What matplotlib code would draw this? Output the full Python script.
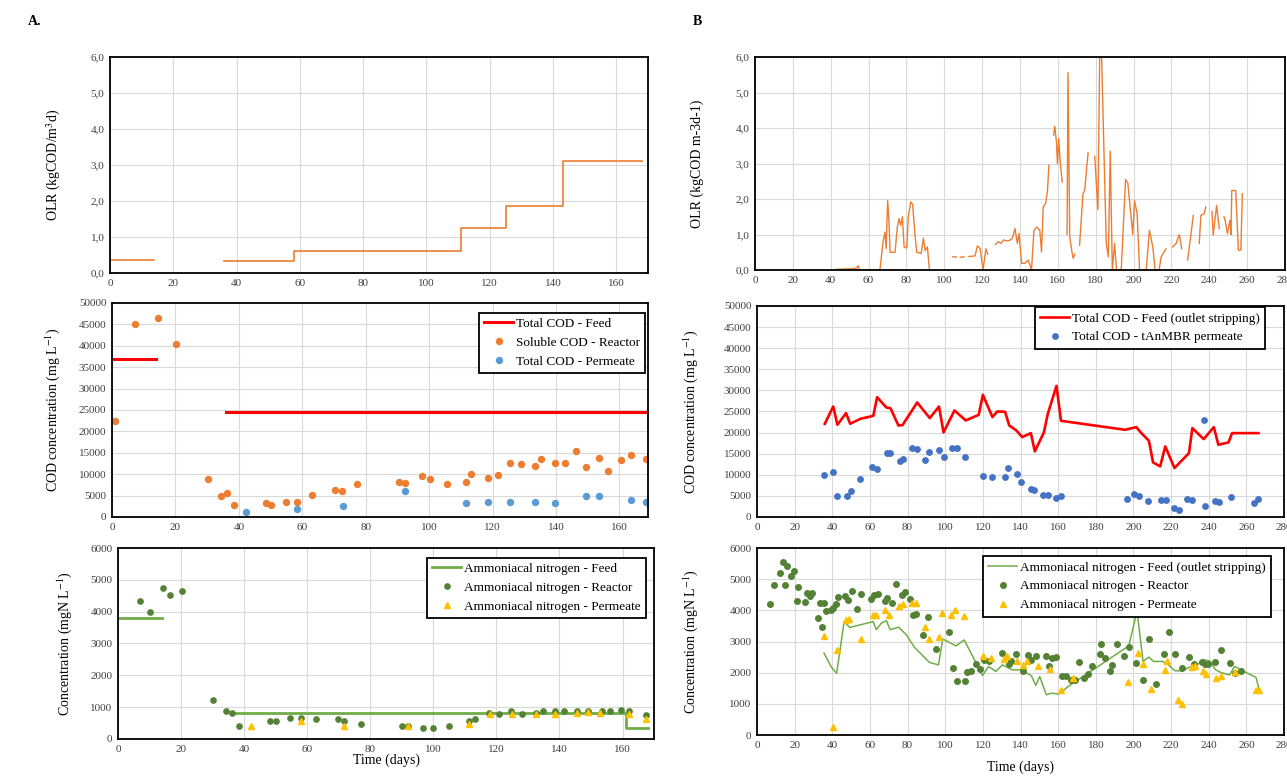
import numpy as np
import matplotlib.pyplot as plt
from matplotlib.ticker import FuncFormatter, MultipleLocator

plt.rcParams['font.family'] = ['Liberation Serif', 'DejaVu Serif']
plt.rcParams['mathtext.fontset'] = 'stix'
nan = np.nan

# ---- A: OLR (step profile) ----
olr_a1_day = [0, 14]
olr_a1_val = [0.35, 0.35]
olr_a2_day = [36, 58, 111, 125, 143, 168]
olr_a2_val = [0.32, 0.62, 1.25, 1.87, 3.1, 3.1]

# ---- A: COD ----
cod_feed_a1_day = [0, 14]
cod_feed_a1_val = [37000, 37000]
cod_feed_a2_day = [36, 168]
cod_feed_a2_val = [24500, 24500]
scod_reac_day = [1, 7.3, 14.4, 20.1, 30.3, 34.4, 36.4, 38.4, 48.5, 50.1, 55, 58.3, 63,
                 70.4, 72.5, 77.3, 90.4, 92.4, 97.6, 100.4, 105.7, 111.5, 113.3, 118.7,
                 121.6, 125.6, 128.9, 133.3, 135.3, 139.6, 142.7, 146.3, 149.6, 153.6,
                 156.4, 160.4, 163.6, 168.4]
scod_reac_val = [22500, 45100, 46400, 40300, 8950, 5000, 5650, 2700, 3300, 2900, 3500,
                 3500, 5100, 6300, 6000, 7800, 8200, 7850, 9600, 8950, 7800, 8200, 10100,
                 9200, 9900, 12550, 12300, 11800, 13500, 12550, 12550, 15300, 11700, 13700,
                 10750, 13250, 14450, 13500]
tcod_perm_a_day = [42.4, 58.3, 72.7, 92.4, 111.5, 118.7, 125.6, 133.3, 139.6, 149.6,
                   153.6, 163.6, 168.4]
tcod_perm_a_val = [1100, 1950, 2600, 6000, 3200, 3500, 3500, 3500, 3200, 4800, 4800,
                   3900, 3500]

# ---- A: ammoniacal nitrogen ----
nh4_feed_a1_day = [0, 14]
nh4_feed_a1_val = [3800, 3800]
nh4_feed_a2_day = [36, 161, 168]
nh4_feed_a2_val = [820, 330, 330]
nh4_reac_a_day = [7, 10.2, 14.2, 16.4, 20.3, 30.1, 34.2, 36.2, 38.3, 48.3, 50, 54.7,
                  58.1, 62.9, 69.8, 71.8, 77, 90, 92, 96.8, 99.9, 105.1, 111.2, 113.2,
                  117.8, 120.7, 124.7, 128.2, 132.7, 134.7, 138.6, 141.3, 145.6, 149,
                  153.4, 155.9, 159.6, 162.2, 167.6]
nh4_reac_a_val = [4330, 3990, 4740, 4510, 4650, 1210, 870, 830, 410, 580, 580, 650, 650,
                  620, 620, 560, 460, 420, 410, 330, 350, 420, 580, 640, 830, 770, 880,
                  790, 820, 880, 880, 880, 880, 880, 880, 880, 910, 870, 750]
nh4_perm_a_day = [42.2, 58, 71.8, 92, 111.2, 118, 124.9, 132.6, 138.6, 145.6, 149,
                  152.7, 162.2, 167.6]
nh4_perm_a_val = [410, 550, 410, 420, 470, 770, 800, 780, 790, 810, 850, 810, 790, 640]

# ---- B: OLR ----
olr_b_day = [43, 48, 53.5, 54.6, 55.2, 66,
             67.8, 68.7, 69.3, 70.1, 70.8, 71.4, 74, 75.2, 76.1, 77, 77.9, 78.8, 80.2,
             81, 82.3, 83.3, 84.6, 85.5, 87.8, 89, 89.9, 91.1, 92.2, nan,
             104.5, 106.5, nan, 108.5, 110.5, nan,
             113, 116.3, 117.5, 119, 120.5, 122, 123, nan,
             127, 128.5, 130, 131.5, 133, 134.7, 136, 137.4, 138.6, 139.5, 140.9, 142.5,
             144.4, 146.1, 147.4, 148.8, 150.5, 151.4, 152.3, 153.5, 154.5, 155.3, nan,
             157.8, 158.4, 159.3, 159.8, 160.5, 161.2, 162.3, nan,
             164.9, 165.4, 166.3, 167.5, 168.1, 169, nan,
             171.5, 172.5, 173.3, 174.2, 176, nan,
             179.5, 181.2, 182.2, 183, 185.6, 186.7, 187.7, 188.8, 190, 191, 193.5,
             195.8, 197, 199.6, 200.5, 201.9, 203.2, 206.7, 208.4, 210.2, 211.4, 213.5,
             214.6, 216, 217.2, nan,
             220.7, 222.5, 224.2, 225.5, nan,
             228.6, 230.4, 231.6, nan, 234.7, 235.6, 237.4, 238.2, nan,
             241.5, 242.1, 243.9, 245.3, nan,
             247.8, 248.4, 249.6, 250.9, 251.5, 251.9, 254, 255.4, 256.7, 257.5]
olr_b_val = [0.02, 0.03, 0.05, 0.12, 0.0, 0.0,
             0.84, 1.07, 0.6, 1.96, 1.4, 0.5, 0.5, 1.2, 1.45, 1.26, 1.5, 0.65, 0.62,
             1.5, 1.92, 1.85, 0.95, 0.5, 0.47, 0.9, 0.55, 0.65, 0.0, nan,
             0.37, 0.37, nan, 0.36, 0.37, nan,
             0.38, 0.4, 0.68, 0.6, 0.0, 0.6, 0.45, nan,
             0.72, 0.8, 0.75, 0.85, 0.82, 0.84, 0.9, 1.17, 0.75, 1.03, 0.19, 0.19,
             0.28, 0.0, 1.12, 1.21, 1.12, 0.51, 1.78, 1.87, 2.2, 2.95, nan,
             3.8, 4.05, 3.6, 3.0, 3.7, 3.1, 2.48, nan,
             1.0, 5.56, 0.93, 0.5, 0.33, 0.45, nan,
             0.7, 1.5, 2.15, 2.24, 3.3, nan,
             3.2, 1.7, 6.3, 6.3, 0.75, 0.37, 3.35, 0.0, 0.75, 0.0, 0.0,
             2.55, 2.45, 1.0, 1.95, 1.6, 0.0, 0.0, 1.12, 0.65, 0.0, 0.0,
             0.37, 0.5, 0.6, nan,
             0.65, 0.75, 1.0, 0.6, nan,
             0.28, 1.03, 1.54, nan, 0.75, 1.54, 1.59, 1.78, nan,
             1.65, 0.98, 1.82, 1.17, nan,
             1.5, 1.4, 1.03, 1.4, 1.0, 2.24, 2.24, 0.56, 0.56, 2.15]

# ---- B: COD ----
cod_feed_b_day = [36, 40.5, 42.7, 47.3, 49.5, 54.9, 61.8, 63.8, 68.7, 70.9, 75.1, 77.3,
                  85.1, 91.8, 96.7, 99.1, 104.9, 110.9, 117.8, 120, 125.1, 127.6, 131.8,
                  134, 137.8, 140.9, 145.5, 147.6, 152.4, 154.5, 159.1, 161.5, 195.5,
                  201.5, 204.2, 208.2, 210.4, 214.2, 216.9, 221.8, 229.5, 231.3, 237.3,
                  242.7, 245.1, 250.5, 252.4, 266.4]
cod_feed_b_val = [22080, 26180, 21850, 24600, 22080, 23260, 23970, 28390, 25950, 25790,
                  21690, 21770, 27130, 23420, 26180, 20030, 25240, 22870, 24210, 28940,
                  23660, 25000, 24920, 21690, 20500, 18930, 19870, 15540, 20030, 24450,
                  31070, 22790, 20660, 21290, 19870, 18060, 12930, 11990, 16720, 11590,
                  15140, 21060, 18450, 21290, 17110, 17670, 19870, 19870]
tcod_perm_b_day = [35.6, 40.5, 42.7, 47.8, 49.8, 54.9, 61.3, 63.8, 69.1, 70.5, 75.8, 77.6,
                   82.5, 84.9, 89.5, 91.5, 96.9, 99.1, 103.6, 106, 110.5, 120, 125.1,
                   131.5, 133.6, 138.2, 140.5, 145.5, 147.3, 151.8, 154.5, 158.7, 161.3,
                   196.4, 200.5, 203.1, 207.8, 214.5, 217.3, 221.8, 224.2, 228.5, 231.3,
                   237.3, 237.8, 243.1, 245.5, 251.8, 264, 266.4]
tcod_perm_b_val = [10020, 10570, 5050, 5050, 6070, 9070, 11830, 11440, 15140, 15140,
                   13330, 13800, 16320, 16090, 13560, 15380, 15770, 14200, 16320, 16320,
                   14200, 9620, 9380, 9380, 11590, 10250, 8200, 6700, 6310, 5130, 5130,
                   4420, 5050, 4260, 5440, 5050, 3710, 3940, 3940, 2210, 1730, 4340, 3940,
                   23030, 2680, 3860, 3470, 4810, 3310, 4260]

# ---- B: ammoniacal nitrogen ----
nh4_feed_b_day = [35.6, 39.6, 42.3, 46.3, 49.3, 61.7, 63.4, 66.1, 68.7, 70.8, 75.2, 79.3,
                  83.7, 91.6, 96.4, 98.7, 105.7, 110.1, 119.8, 123, 126.9, 130.4, 135.7,
                  140.5, 145.8, 148.1, 150.2, 153.7, 156.3, 160.7, 165.1, 197.5, 201.9,
                  205.1, 208.1, 210.7, 215.6, 218.6, 222.1, 225.6, 230, 234.4, 237.9,
                  240.5, 243.7, 246.7, 251.1, 253.7, 257.7, 265.1, 266.8]
nh4_feed_b_val = [2630, 2170, 1980, 3640, 3450, 3640, 3380, 3590, 3670, 3380, 3460, 3220,
                  2810, 2330, 2250, 3080, 2860, 3050, 1910, 2200, 2040, 2250, 2090, 2090,
                  1900, 1590, 1880, 1290, 1340, 1320, 1550, 2860, 3970, 2360, 2500, 2360,
                  2360, 2250, 2060, 2060, 2180, 2280, 2410, 2380, 2090, 2000, 1930, 2200,
                  2070, 1850, 1450]
nh4_reac_b_day = [7, 9.2, 12, 13.6, 15, 15.9, 18.1, 19.4, 21.5, 22, 25.6, 26.8, 28.2,
                  29.4, 32.2, 33.5, 34.5, 35.6, 36.7, 39.1, 40.5, 41.9, 43.2, 46.7, 48.6,
                  50.7, 53.2, 55.5, 60.3, 62.2, 64.3, 67.8, 69.2, 71.7, 74, 77.2, 78.6,
                  81.1, 82.8, 84.6, 88.1, 90.7, 95.2, 101.8, 104, 106.1, 110.3, 111.5,
                  113.8, 116.6, 118.4, 120.7, 123.3, 130.4, 133.9, 135.2, 137.4, 141.4,
                  144, 145.8, 148.4, 153.3, 155.1, 156.8, 158.9, 161.9, 163.9, 166.8,
                  168.9, 170.9, 173.9, 175.6, 177.9, 182.1, 182.6, 184.7, 187.4, 188.8,
                  191.4, 194.9, 197.5, 201.4, 204.9, 208.1, 211.9, 216, 219.1, 222.1,
                  225.6, 229.6, 232.3, 236.5, 237.9, 239.6, 243.2, 246.7, 251.1, 253.7,
                  257.2]
nh4_reac_b_val = [4200, 4800, 5200, 5540, 4800, 5410, 5110, 5250, 4310, 4750, 4270, 4560,
                  4450, 4560, 3770, 4230, 3450, 4230, 3970, 4000, 4070, 4200, 4430, 4470,
                  4320, 4630, 4040, 4530, 4360, 4500, 4530, 4290, 4390, 4250, 4840, 4500,
                  4580, 4370, 3860, 3890, 3220, 3800, 2770, 3300, 2140, 1730, 1730, 2010,
                  2040, 2270, 2110, 2410, 2360, 2630, 2280, 2360, 2590, 2060, 2570, 2410,
                  2520, 2550, 2220, 2470, 2490, 1900, 1900, 1770, 1770, 2330, 1840, 1950,
                  2220, 2590, 2920, 2470, 2070, 2250, 2920, 2520, 2840, 2300, 1750, 3080,
                  1640, 2600, 3290, 2600, 2140, 2500, 2270, 2330, 2280, 2280, 2330, 2730,
                  2300, 1980, 2040]
nh4_perm_b_day = [35.6, 40.5, 42.3, 47.2, 49, 55, 61.7, 63.4, 67.8, 70.1, 75.2, 77.5,
                  82.5, 84.6, 89, 91.3, 96.6, 98.3, 103.3, 105.2, 110.1, 119.8, 124.2,
                  131.3, 133, 138.3, 141.4, 143.2, 149.3, 155.4, 161.6, 167.7, 197.2,
                  202.5, 204.9, 209.5, 216.5, 217.7, 223.9, 225.6, 230.9, 232.6, 237,
                  238.8, 244, 246.7, 253.7, 265.1, 266.8]
nh4_perm_b_val = [3180, 270, 2730, 3700, 3720, 3080, 3860, 3860, 4020, 3860, 4150, 4200,
                  4250, 4230, 3480, 3090, 3130, 3930, 3860, 4000, 3830, 2540, 2470, 2440,
                  2540, 2380, 2250, 2390, 2200, 2110, 1450, 1820, 1710, 2630, 2280, 1470,
                  2090, 2390, 1130, 1000, 2180, 2220, 2070, 1960, 1820, 1900, 2020, 1450,
                  1430]

ORANGE = '#ED7D31'
BLUE_A = '#5B9BD5'
BLUE_B = '#4472C4'
RED = '#FF0000'
GREEN = '#70AD47'
DGREEN = '#548235'
YELLOW = '#FFC000'

fig = plt.figure(figsize=(12.87, 7.76), dpi=100)


def style(ax, xmax, xstep, ymax, ystep, ylabel, labx):
    ax.set_xlim(0, xmax)
    ax.set_ylim(0, ymax)
    ax.xaxis.set_major_locator(MultipleLocator(xstep))
    ax.yaxis.set_major_locator(MultipleLocator(ystep))
    ax.grid(True, color='#D9D9D9', linewidth=0.8)
    ax.set_axisbelow(True)
    ax.tick_params(length=0, labelsize=8, colors='#404040', pad=4)
    for s in ax.spines.values():
        s.set_color('black')
        s.set_linewidth(1.3)
    ax.set_ylabel(ylabel, fontsize=10)
    ax.yaxis.set_label_coords(labx, 0.5)


def legend(ax, anchor):
    lg = ax.legend(loc='upper right', bbox_to_anchor=anchor, fontsize=9.5,
                   frameon=True, fancybox=False, edgecolor='black', framealpha=1,
                   borderaxespad=0, handlelength=2.2, handletextpad=0.2,
                   labelspacing=0.5, numpoints=1)
    lg.get_frame().set_linewidth(1.3)
    return lg


comma = FuncFormatter(lambda v, p: f"{v:.1f}".replace('.', ','))

# ---------- Panel A ----------
ax1 = fig.add_axes([0.0855, 0.6482, 0.418, 0.2784])
ax1.plot(olr_a1_day, olr_a1_val, color=ORANGE, lw=1.2)
ax1.plot(olr_a2_day, olr_a2_val, color=ORANGE, lw=1.2, drawstyle='steps-post')
style(ax1, 170, 20, 6, 1, r'OLR (kgCOD/m$^3$d)', -0.087)
ax1.yaxis.set_major_formatter(comma)

ax2 = fig.add_axes([0.087, 0.3338, 0.4165, 0.2758])
ax2.plot(cod_feed_a1_day, cod_feed_a1_val, color=RED, lw=2.2, label='Total COD - Feed')
ax2.plot(cod_feed_a2_day, cod_feed_a2_val, color=RED, lw=2.2)
ax2.plot(scod_reac_day, scod_reac_val, 'o', ls='none', color=ORANGE, ms=4.3,
         label='Soluble COD - Reactor')
ax2.plot(tcod_perm_a_day, tcod_perm_a_val, 'o', ls='none', color=BLUE_A, ms=4.3,
         label='Total COD - Permeate')
style(ax2, 169, 20, 50000, 5000, r'COD concentration (mg L$^{-1}$)', -0.093)
legend(ax2, (0.995, 0.955))

ax3 = fig.add_axes([0.0917, 0.0477, 0.4165, 0.2461])
ax3.plot(nh4_feed_a1_day, nh4_feed_a1_val, color=GREEN, lw=2, label='Ammoniacal nitrogen - Feed')
ax3.plot(nh4_feed_a2_day, nh4_feed_a2_val, color=GREEN, lw=2, drawstyle='steps-post')
ax3.plot(nh4_reac_a_day, nh4_reac_a_val, 'o', ls='none', color=DGREEN, ms=3.8,
         label='Ammoniacal nitrogen - Reactor')
ax3.plot(nh4_perm_a_day, nh4_perm_a_val, '^', ls='none', color=YELLOW, ms=4.2,
         label='Ammoniacal nitrogen - Permeate')
style(ax3, 170, 20, 6000, 1000, r'Concentration (mgN L$^{-1}$)', -0.082)
ax3.set_xlabel('Time (days)', fontsize=10, labelpad=0)
legend(ax3, (0.985, 0.95))

# ---------- Panel B ----------
ax4 = fig.add_axes([0.5866, 0.652, 0.4118, 0.2745])
ax4.plot(olr_b_day, olr_b_val, color=ORANGE, lw=1.0)
style(ax4, 280, 20, 6, 1, 'OLR (kgCOD m-3d-1)', -0.0965)
ax4.yaxis.set_major_formatter(comma)

ax5 = fig.add_axes([0.5882, 0.3338, 0.4095, 0.2719])
ax5.plot(cod_feed_b_day, cod_feed_b_val, color=RED, lw=1.9,
         label='Total COD - Feed (outlet stripping)')
ax5.plot(tcod_perm_b_day, tcod_perm_b_val, 'o', ls='none', color=BLUE_B, ms=3.9,
         label='Total COD - tAnMBR permeate')
style(ax5, 280, 20, 50000, 5000, r'COD concentration (mg L$^{-1}$)', -0.108)
legend(ax5, (0.964, 0.995))

ax6 = fig.add_axes([0.5882, 0.0528, 0.4095, 0.241])
ax6.plot(nh4_feed_b_day, nh4_feed_b_val, color=GREEN, lw=1.1,
         label='Ammoniacal nitrogen - Feed (outlet stripping)')
ax6.plot(nh4_reac_b_day, nh4_reac_b_val, 'o', ls='none', color=DGREEN, ms=4,
         label='Ammoniacal nitrogen - Reactor')
ax6.plot(nh4_perm_b_day, nh4_perm_b_val, '^', ls='none', color=YELLOW, ms=4.6,
         label='Ammoniacal nitrogen - Permeate')
style(ax6, 280, 20, 6000, 1000, r'Concentration (mgN L$^{-1}$)', -0.108)
ax6.set_xlabel('Time (days)', fontsize=10, labelpad=8)
legend(ax6, (0.975, 0.957))

fig.text(0.022, 0.972, 'A.', fontsize=10, fontweight='bold', va='center')
fig.text(0.538, 0.972, 'B', fontsize=10, fontweight='bold', va='center')

fig.savefig('out.png', dpi=100)
